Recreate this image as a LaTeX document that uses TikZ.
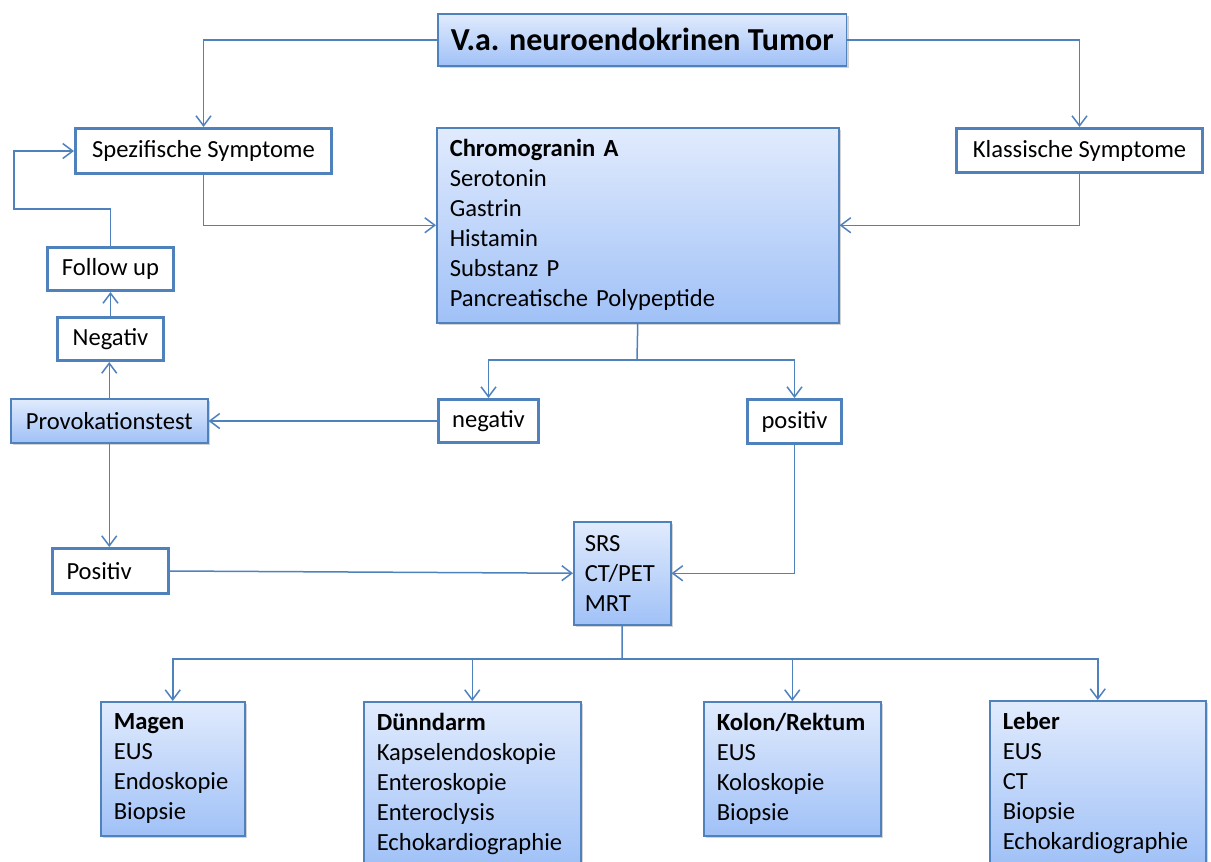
\documentclass[tikz,border=0pt]{standalone}
\usepackage{fontspec}
\setmainfont{Carlito}
\usetikzlibrary{positioning, arrows.meta, shadows}
\definecolor{edgecol}{RGB}{79, 129, 189}
\definecolor{topcol}{RGB}{225, 235, 253}
\definecolor{botcol}{RGB}{160, 193, 247}
\tikzset{
  plain/.style={draw=edgecol, line width=1.5pt, fill=white, anchor=north west,
                inner xsep=0pt, inner ysep=0pt},
  shaded/.style={draw=edgecol, line width=0.75pt, top color=topcol, bottom color=botcol,
                 anchor=north west, align=left, inner xsep=6.5pt, inner ysep=0pt,
                 drop shadow={shadow xshift=0.9pt, shadow yshift=-1.3pt, opacity=0.35}},
  flow/.style={-{Straight Barb[length=5pt, width=7.5pt]}, draw=edgecol, line width=0.75pt},
  link/.style={draw=edgecol, line width=0.75pt},
}

\begin{document}
\begin{tikzpicture}[x=0.5pt, y=-0.5pt, font=\fontsize{12.3}{15}\selectfont]
  \useasboundingbox (0,0) rectangle (1211,862);

  % --- Top row ---
  \node[shaded, align=center, minimum width=204pt, minimum height=26pt,
        font=\fontsize{16}{18}\selectfont\bfseries] (tumor) at (437,13) {V.a. neuroendokrinen Tumor};
  \node[plain, minimum width=128pt, minimum height=22.5pt] (spez) at (74,127) {Spezifische Symptome};
  \node[plain, minimum width=123pt, minimum height=22pt] (klass) at (955,127) {Klassische Symptome};
  \node[shaded, text width=188pt, minimum height=97.5pt] (chromo) at (436,127)
       {\textbf{Chromogranin A}\\Serotonin\\Gastrin\\Histamin\\Substanz P\\Pancreatische Polypeptide};

  \draw[flow] (tumor.west) -| (spez.north);
  \draw[flow] (tumor.east) -| (klass.north);
  \draw[flow] (spez.south) |- (chromo.west);
  \draw[flow] (klass.south) |- (chromo.east);

  % --- Left column ---
  \node[plain, minimum width=63pt, minimum height=21.5pt] (follow) at (46,246) {Follow up};
  \node[plain, minimum width=53pt, minimum height=21.5pt] (negU) at (56,316) {Negativ};
  \node[shaded, align=center, minimum width=98.5pt, minimum height=22pt] (provo) at (10,398) {Provokationstest};
  \node[plain, align=left, inner xsep=7pt, text width=44pt, minimum height=22.5pt] (posL) at (51,547) {Positiv};

  \coordinate (loop) at (14,209);
  \draw[flow] (provo.north) -- (provo.north |- negU.south);
  \draw[flow] (negU.north) -- (follow.south);
  \draw[flow] (follow.north) |- (loop) |- (spez.west);
  \draw[flow] (provo.south) -- (provo.south |- posL.north);

  % --- Test results ---
  \node[plain, minimum width=50pt, minimum height=21.5pt] (negL) at (437,398) {negativ};
  \node[plain, minimum width=47pt, minimum height=22pt] (posR) at (746,398) {positiv};
  \node[shaded, inner xsep=5.5pt, text width=37.5pt, minimum height=51.5pt] (srs) at (573,521)
       {SRS\\CT/PET\\MRT};

  \coordinate (split1) at (637,360);
  \draw[link] (chromo.south) -- (split1);
  \draw[flow] (split1) -| (negL.north);
  \draw[flow] (split1) -| (posR.north);
  \draw[flow] (negL.west) -- (negL.west -| provo.east);
  \draw[flow] (posL.east) -- (srs.west);
  \draw[flow] (posR.south) |- (srs.east);

  % --- Organs row ---
  \node[shaded, text width=59pt, minimum height=67pt] (magen) at (100,701)
       {\textbf{Magen}\\EUS\\Endoskopie\\Biopsie};
  \node[shaded, text width=95.5pt, minimum height=82pt] (duenn) at (363,701)
       {\textbf{Dünndarm}\\Kapselendoskopie\\Enteroskopie\\Enteroclysis\\Echokardiographie};
  \node[shaded, text width=75.5pt, minimum height=67pt] (kolon) at (703,701)
       {\textbf{Kolon/Rektum}\\EUS\\Koloskopie\\Biopsie};
  \node[shaded, text width=95pt, minimum height=82pt] (leber) at (989,700)
       {\textbf{Leber}\\EUS\\CT\\Biopsie\\Echokardiographie};

  \coordinate (split2) at (622,659);
  \draw[link] (srs.south) -- (split2);
  \draw[flow] (split2) -| (magen.north);
  \draw[flow] (split2) -| (duenn.north);
  \draw[flow] (split2) -| (kolon.north);
  \draw[flow] (split2) -| (leber.north);
\end{tikzpicture}
\end{document}
